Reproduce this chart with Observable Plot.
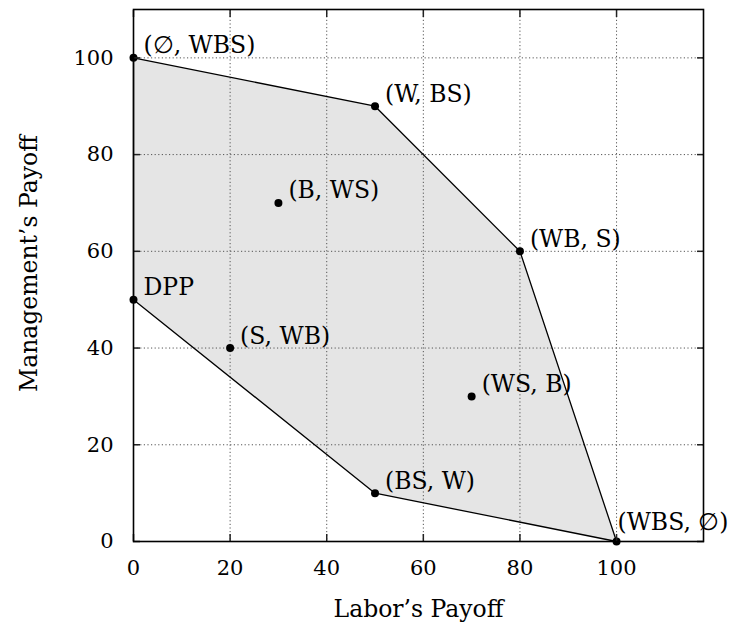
<!DOCTYPE html>
<html>
<head>
<meta charset="utf-8">
<script src="https://cdn.jsdelivr.net/npm/d3@7"></script>
<script src="https://cdn.jsdelivr.net/npm/@observablehq/plot@0.6"></script>
<style>
  html, body { margin: 0; padding: 0; background: white; }
  svg, svg text { font-family: "DejaVu Serif", serif !important; }
</style>
</head>
<body>
<div id="chart"></div>
<script>
const labels = ["(∅, WBS)", "(W, BS)", "(B, WS)", "(WB, S)", "DPP", "(S, WB)", "(WS, B)", "(BS, W)", "(WBS, ∅)"];
const laborPayoff = [0, 50, 30, 80, 0, 20, 70, 50, 100];
const managementPayoff = [100, 90, 70, 60, 50, 40, 30, 10, 0];
const hullOrder = ["(∅, WBS)", "(W, BS)", "(WB, S)", "(WBS, ∅)", "(BS, W)", "DPP"];
const xTicks = [0, 20, 40, 60, 80, 100];
const yTicks = [0, 20, 40, 60, 80, 100];
const xLabel = "Labor’s Payoff";
const yLabel = "Management’s Payoff";

const points = labels.map((label, i) => ({label, x: laborPayoff[i], y: managementPayoff[i]}));
const hull = hullOrder.map(l => points.find(p => p.label === l));
const lastLabel = labels[labels.length - 1];
const mainPts = points.filter(p => p.label !== lastLabel);
const cornerPts = points.filter(p => p.label === lastLabel);

const gridStyle = {stroke: "#555", strokeOpacity: 1, strokeWidth: 1, strokeDasharray: "1.2,2.4"};
const tickFont = 21;
const textFont = 23.5;

const chart = Plot.plot({
  width: 736,
  height: 624,
  marginLeft: 133,
  marginRight: 33,
  marginTop: 9,
  marginBottom: 83,
  x: {domain: [0, 118]},
  y: {domain: [0, 110]},
  style: {fontFamily: "'DejaVu Serif', serif", fontSize: "22px", background: "white", color: "black"},
  marks: [
    Plot.line(hull, {x: "x", y: "y", curve: "linear-closed", fill: "#e5e5e5", stroke: "none"}),
    Plot.gridX(xTicks, gridStyle),
    Plot.gridY(yTicks, gridStyle),
    Plot.line(hull, {x: "x", y: "y", curve: "linear-closed", fill: "none", stroke: "black", strokeWidth: 1.3}),
    Plot.dot(points, {x: "x", y: "y", r: 4, fill: "black", stroke: "none"}),
    Plot.text(mainPts, {x: "x", y: "y", text: "label", textAnchor: "start", lineAnchor: "middle", dx: 10, dy: -12, fontSize: textFont}),
    Plot.text(cornerPts, {x: "x", y: "y", text: "label", textAnchor: "start", lineAnchor: "middle", dx: 1, dy: -19, fontSize: textFont}),
    Plot.axisX(xTicks, {anchor: "bottom", tickSize: 0, tickPadding: 19, label: null, fontSize: tickFont}),
    Plot.axisY(yTicks, {anchor: "left", tickSize: 0, tickPadding: 20, label: null, fontSize: tickFont}),
    Plot.axisX(xTicks, {anchor: "bottom", tickSize: -7, tickFormat: () => "", label: null, stroke: "#222", strokeWidth: 1.5}),
    Plot.axisX(xTicks, {anchor: "top", tickSize: -7, tickFormat: () => "", label: null, stroke: "#222", strokeWidth: 1.5}),
    Plot.axisY(yTicks, {anchor: "left", tickSize: -7, tickFormat: () => "", label: null, stroke: "#222", strokeWidth: 1.5}),
    Plot.axisY(yTicks, {anchor: "right", tickSize: -7, tickFormat: () => "", label: null, stroke: "#222", strokeWidth: 1.5}),
    Plot.text([xLabel], {text: d => d, frameAnchor: "bottom", textAnchor: "middle", dy: 68, lineAnchor: "middle", fontSize: textFont}),
    Plot.text([yLabel], {text: d => d, frameAnchor: "left", textAnchor: "middle", dx: -104, dy: -12, rotate: -90, lineAnchor: "middle", fontSize: textFont}),
    Plot.frame({stroke: "black", strokeWidth: 1.6})
  ]
});
document.getElementById("chart").appendChild(chart);
</script>
</body>
</html>
